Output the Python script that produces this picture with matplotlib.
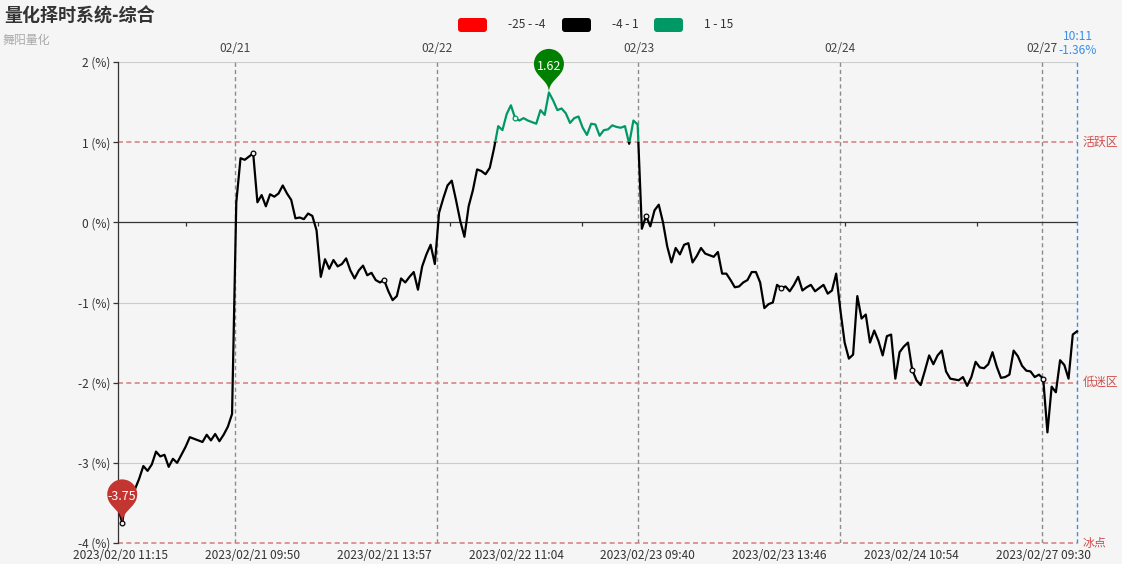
import math
import numpy as np
import matplotlib
matplotlib.use("Agg")
import matplotlib.pyplot as plt
from matplotlib.path import Path
from matplotlib.patches import PathPatch, FancyBboxPatch, Rectangle
from matplotlib.transforms import Affine2D, IdentityTransform

plt.rcParams['font.family'] = ['Noto Sans CJK SC', 'DejaVu Sans']

# ---------------- data ----------------
title = '量化择时系统-综合'
subtitle = '舞阳量化'

sample_step = 5  # one value every 5 one-minute categories
values = [
    -3.55, -3.75, -3.38, -3.36, -3.33, -3.20, -3.04, -3.10, -3.02, -2.86,
    -2.92, -2.90, -3.05, -2.95, -3.00, -2.90, -2.80, -2.68, -2.70, -2.72,
    -2.74, -2.65, -2.72, -2.64, -2.73, -2.65, -2.55, -2.39, 0.25, 0.80,
    0.78, 0.82, 0.86, 0.25, 0.34, 0.20, 0.35, 0.32, 0.36, 0.46,
    0.36, 0.28, 0.05, 0.06, 0.04, 0.11, 0.08, -0.10, -0.68, -0.46,
    -0.58, -0.47, -0.55, -0.52, -0.45, -0.60, -0.70, -0.60, -0.54, -0.66,
    -0.63, -0.72, -0.75, -0.72, -0.86, -0.97, -0.92, -0.70, -0.75, -0.68,
    -0.62, -0.84, -0.55, -0.40, -0.28, -0.52, 0.12, 0.30, 0.46, 0.52,
    0.28, 0.02, -0.18, 0.20, 0.40, 0.66, 0.64, 0.60, 0.68, 0.92,
    1.20, 1.15, 1.35, 1.46, 1.30, 1.27, 1.30, 1.27, 1.25, 1.23,
    1.40, 1.34, 1.62, 1.52, 1.40, 1.42, 1.36, 1.24, 1.30, 1.32,
    1.18, 1.09, 1.23, 1.22, 1.08, 1.15, 1.16, 1.21, 1.19, 1.18,
    1.20, 0.98, 1.27, 1.22, -0.08, 0.08, -0.05, 0.15, 0.22, 0.00,
    -0.30, -0.50, -0.32, -0.40, -0.28, -0.26, -0.50, -0.42, -0.32, -0.39,
    -0.41, -0.43, -0.37, -0.64, -0.64, -0.72, -0.81, -0.80, -0.75, -0.72,
    -0.62, -0.62, -0.75, -1.07, -1.02, -1.00, -0.78, -0.82, -0.80, -0.86,
    -0.78, -0.68, -0.85, -0.81, -0.78, -0.86, -0.82, -0.78, -0.89, -0.85,
    -0.64, -1.10, -1.50, -1.70, -1.65, -0.92, -1.20, -1.15, -1.50, -1.35,
    -1.48, -1.66, -1.42, -1.40, -1.95, -1.62, -1.55, -1.50, -1.84, -1.97,
    -2.03, -1.85, -1.66, -1.77, -1.66, -1.60, -1.86, -1.95, -1.96, -1.97,
    -1.93, -2.04, -1.93, -1.74, -1.81, -1.82, -1.77, -1.62, -1.80, -1.94,
    -1.93, -1.90, -1.60, -1.67, -1.79, -1.85, -1.86, -1.93, -1.90, -1.95,
    -2.62, -2.05, -2.12, -1.72, -1.78, -1.95, -1.40, -1.36,
]

tick_labels = ['2023/02/20 11:15', '2023/02/21 09:50', '2023/02/21 13:57',
               '2023/02/22 11:04', '2023/02/23 09:40', '2023/02/23 13:46',
               '2023/02/24 10:54', '2023/02/27 09:30']
label_first, label_step = 3, 156
day_labels = ['02/21', '02/22', '02/23', '02/24', '02/27']
day_start_idx = [139, 378, 616, 855, 1094]
last_time = '10:11'
last_value_text = '-1.36%'

zones = [(1, '活跃区'), (-2, '低迷区'), (-4, '冰点')]
pieces = [(-25, -4, '#ff0000', '-25 - -4'),
          (-4, 1, '#000000', '-4 - 1'),
          (1, 15, '#009966', '1 - 15')]

# ---------------- figure ----------------
W, H = 1122, 564
BG = '#f5f5f5'
fig = plt.figure(figsize=(W / 100, H / 100), dpi=100, facecolor=BG)


def fx(px):
    return px / W


def fy(py):
    return 1 - py / H


ax = fig.add_axes([fx(118), fy(543), fx(1077) - fx(118), fy(62) - fy(543)])
ax.set_facecolor(BG)

x = np.arange(len(values)) * sample_step
v = np.array(values)
x_last = x[-1]
ax.set_xlim(0, x_last)
ax.set_ylim(-4, 2)

for s in ['top', 'right', 'bottom']:
    ax.spines[s].set_visible(False)
ax.spines['left'].set_color('#333333')
ax.spines['left'].set_linewidth(0.9)

yt = list(range(-4, 3))
ax.set_yticks(yt)
ax.set_yticklabels([f'{t} (%)' for t in yt])
ax.tick_params(axis='y', length=3.6, width=0.9, color='#333333',
               labelcolor='#333333', labelsize=8.6, pad=2)

label_idx = [label_first + i * label_step for i in range(len(tick_labels))]
ax.set_xticks(label_idx)
ax.set_xticklabels(tick_labels)
ax.tick_params(axis='x', length=0, pad=4.6, labelsize=8.6, labelcolor='#333333')

# grid lines
for gy in [-3, -1, 2]:
    ax.axhline(gy, color='#cccccc', lw=0.8, zorder=1)
ax.axhline(0, color='#333333', lw=0.9, zorder=2)
zero_ticks = [label_first + 78 + i * label_step for i in range(7)]
ax.vlines(zero_ticks, -0.05, 0, color='#333333', lw=0.9, zorder=2)

# day boundaries
for d, lab in zip(day_start_idx, day_labels):
    ax.axvline(d, color='#8c8c8c', lw=1.0, ls=(0, (3, 2.2)), zorder=1)
    ax.annotate(lab, xy=(d, 1), xycoords=('data', 'axes fraction'),
                xytext=(0, 10), textcoords='offset points',
                ha='center', va='center', fontsize=8.6, color='#444444')

# mark lines / zones
for zv, zl in zones:
    ax.axhline(zv, color='#d98585', lw=1.2, ls=(0, (3, 2)), zorder=2, clip_on=False)
    ax.annotate(zl, xy=(1, zv), xycoords=('axes fraction', 'data'),
                xytext=(4.3, 0), textcoords='offset points',
                ha='left', va='center', fontsize=8.6, color='#d24d4d')

# last point vertical
ax.axvline(x_last, color='#3a8ee6', lw=1.0, ls=(0, (3, 2.2)), zorder=3, clip_on=False)

# series, coloured by piece
for lo, hi, col, _ in pieces:
    ln, = ax.plot(x, v, color=col, lw=1.6, zorder=5, solid_joinstyle='round')
    clip = Rectangle((-100, lo), x_last + 200, hi - lo, transform=ax.transData)
    ln.set_clip_path(clip)

# small symbols at label positions
for li in label_idx:
    k = int(round(li / sample_step))
    k = min(k, len(values) - 1)
    col = '#000000'
    for lo, hi, c, _ in pieces:
        if lo <= v[k] < hi:
            col = c
    ax.plot([x[k]], [v[k]], 'o', ms=3.4, mfc=BG, mec=col, mew=0.9, zorder=6)


# pins (max / min)
def draw_pin(xd, yd, color, label):
    px, py = ax.transData.transform((xd, yd))
    r = 15.0
    h = 50.0
    dy = r * r / (h - r)
    c = h - r - dy
    a = math.asin(dy / r)
    dx = math.cos(a) * r
    arc = Path.arc(-math.degrees(a), 180 + math.degrees(a))
    verts = [(vx * r, vy * r + c) for vx, vy in arc.vertices]
    codes = list(arc.codes)
    cpx = math.sin(a) * 0.6 * r
    cpy = c - dy - math.cos(a) * 0.6 * r
    verts += [(-dx + cpx, cpy), (0, 0.7 * r), (0, 0),
              (0, 0.7 * r), (dx - cpx, cpy), (dx, c - dy), (0, 0)]
    codes += [Path.CURVE4] * 6 + [Path.CLOSEPOLY]
    patch = PathPatch(Path(verts, codes), facecolor=color, edgecolor='none',
                      transform=Affine2D().translate(px, py), zorder=10)
    fig.add_artist(patch)
    fig.text(px / W, (py + 26) / H, label, ha='center', va='center',
             color='white', fontsize=9, zorder=11)


kmax = int(np.argmax(v))
kmin = int(np.argmin(v))
draw_pin(x[kmax], v[kmax], '#008000', f'{v[kmax]:.2f}')
draw_pin(x[kmin], v[kmin], '#c23531', f'{v[kmin]:.2f}')

# last value label
fig.text(fx(1078), fy(37), last_time, ha='center', va='center',
         fontsize=8.6, color='#3a8ee6')
fig.text(fx(1078), fy(50), last_value_text, ha='center', va='center',
         fontsize=8.6, color='#3a8ee6')

# title
fig.text(fx(4), fy(16), title, fontsize=13, fontweight='bold', color='#333333',
         ha='left', va='center')
fig.text(fx(3), fy(40.5), subtitle, fontsize=8.6, color='#aaaaaa',
         ha='left', va='center')

# legend (piecewise visual map)
leg_boxes = [458, 562, 654]
leg_texts = [508, 612, 704]
for (lo, hi, col, lab), bx, tx in zip(pieces, leg_boxes, leg_texts):
    p = FancyBboxPatch((bx, H - 32), 29, 14,
                       boxstyle='round,pad=0,rounding_size=3',
                       facecolor=col, edgecolor='none',
                       transform=IdentityTransform())
    fig.add_artist(p)
    fig.text(fx(tx), fy(25), lab, ha='left', va='center', fontsize=8.6,
             color='#333333')

fig.savefig('out.png', dpi=100, facecolor=BG)
